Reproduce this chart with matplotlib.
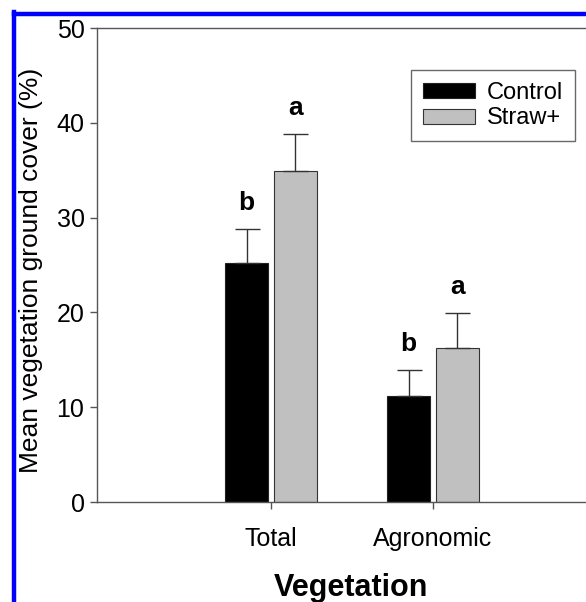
import matplotlib.pyplot as plt
import numpy as np
from matplotlib.lines import Line2D

plt.rcParams["font.family"] = ["Liberation Sans", "DejaVu Sans"]

categories = ["Total", "Agronomic"]
series = ["Control", "Straw+"]
control_mean = [25.2, 11.2]
control_err = [3.6, 2.7]
straw_mean = [34.9, 16.2]
straw_err = [3.9, 3.7]
control_letters = ["b", "b"]
straw_letters = ["a", "a"]
yticks = [0, 10, 20, 30, 40, 50]

W, H = 586, 602
fig = plt.figure(figsize=(W / 100, H / 100), dpi=100)

# axes runs past the right edge of the image, as in the original crop
left, right, top, bottom = 97, 607, 28, 502
ax = fig.add_axes([left / W, 1 - bottom / H, (right - left) / W, (bottom - top) / H])

x = np.arange(len(categories))
width = 0.26
off = 0.151
axis_col = "#555555"
err_kw = dict(ecolor="#333333", elinewidth=1.0, capsize=9, capthick=1.0)

ax.bar(x - off, control_mean, width, color="black", edgecolor="#222222", linewidth=0.8,
       yerr=[np.zeros(len(x)), control_err], error_kw=err_kw, label=series[0], zorder=2)
ax.bar(x + off, straw_mean, width, color="#c0c0c0", edgecolor="#333333", linewidth=0.8,
       yerr=[np.zeros(len(x)), straw_err], error_kw=err_kw, label=series[1], zorder=2)

for i in range(len(x)):
    ax.text(x[i] - off, control_mean[i] + control_err[i] + 1.5, control_letters[i],
            ha="center", va="bottom", fontsize=19, fontweight="bold")
    ax.text(x[i] + off, straw_mean[i] + straw_err[i] + 1.5, straw_letters[i],
            ha="center", va="bottom", fontsize=19, fontweight="bold")

ax.set_xlim(-1.074, 2.074)
ax.set_ylim(0, 50)
ax.set_yticks(yticks)
ax.set_xticks(x)
ax.set_xticklabels(categories)
ax.tick_params(axis="both", colors=axis_col, labelcolor="black", labelsize=18,
               length=5, width=1.0)
ax.tick_params(axis="x", pad=13)
ax.tick_params(axis="y", pad=4)
for s in ax.spines.values():
    s.set_color(axis_col)
    s.set_linewidth(1.0)

fig.text(31 / W, 1 - 270 / H, "Mean vegetation ground cover (%)", rotation=90,
         ha="center", va="center", fontsize=19)
fig.text(351 / W, 1 - 588 / H, "Vegetation", ha="center", va="center",
         fontsize=22, fontweight="bold")

leg = ax.legend(loc="upper left", bbox_to_anchor=((411 - left) / (right - left), 1 - (70 - top) / (bottom - top)),
                fontsize=17, frameon=True, fancybox=False, edgecolor="#444444",
                handlelength=2.2, handleheight=0.6, borderpad=0.5, labelspacing=0.15,
                handletextpad=0.5, borderaxespad=0)
leg.get_frame().set_linewidth(1.0)

# blue frame of the source image (top and left edges visible)
fig.add_artist(Line2D([14 / W, 1.01], [1 - 14 / H, 1 - 14 / H], color="#0000ff",
                      linewidth=3.2, transform=fig.transFigure))
fig.add_artist(Line2D([14 / W, 14 / W], [-0.01, 1 - 12 / H], color="#0000ff",
                      linewidth=3.2, transform=fig.transFigure))

fig.savefig("out.png", dpi=100)
